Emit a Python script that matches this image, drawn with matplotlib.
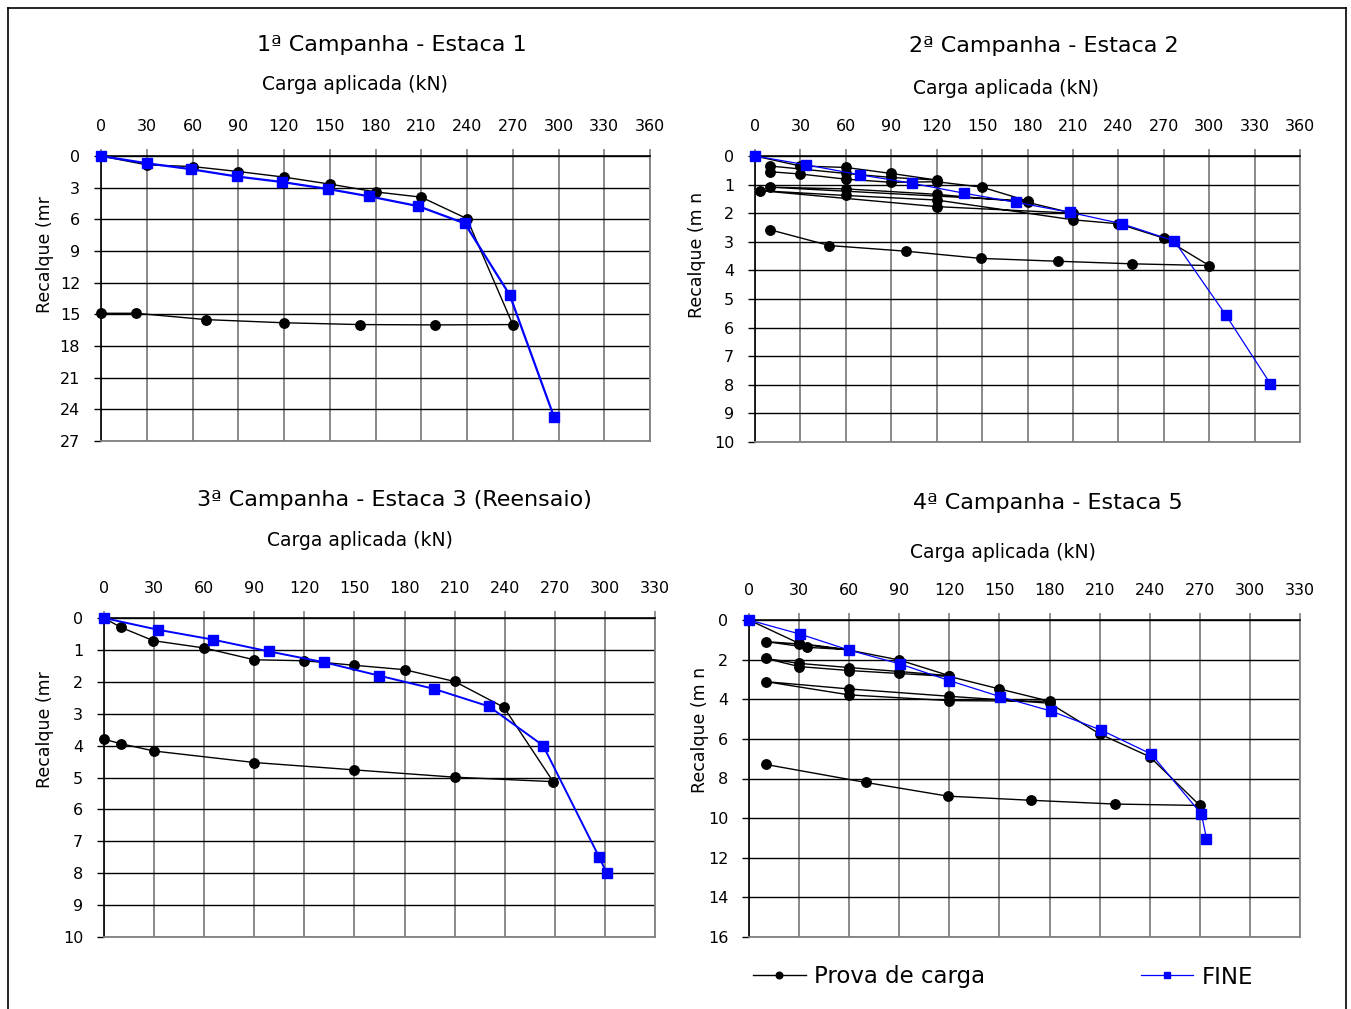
import matplotlib
matplotlib.use("Agg")
import matplotlib.pyplot as plt
from matplotlib.lines import Line2D

W, H = 1351, 1009

# ---- dados ----
# 1a campanha - estaca 1
e1_prova_x = [0, 30, 60, 90, 120, 150, 180, 210, 240, 270, 219, 170, 120, 69, 23, 0]
e1_prova_y = [0, 0.84, 1.0, 1.47, 2.0, 2.66, 3.4, 3.9, 5.94, 15.97, 16.0, 15.97, 15.8, 15.5, 14.9, 14.9]
e1_fine_x = [0, 30, 59, 89, 119, 149, 175.5, 208, 238.5, 268, 297]
e1_fine_y = [0, 0.69, 1.25, 1.94, 2.47, 3.13, 3.81, 4.75, 6.38, 13.16, 24.7]

# 2a campanha - estaca 2
e2_prova_x = [0, 30, 60, 90, 120, 90, 60, 10, 10, 30, 60, 90, 120, 150, 180, 10,
              60, 120, 180, 210, 120, 3, 60, 120, 210, 240, 270, 300,
              249, 200, 149, 100, 49, 10]
e2_prova_y = [0, 0.35, 0.40, 0.61, 0.84, 0.75, 0.61, 0.35, 0.55, 0.63, 0.81, 0.92, 0.90, 1.09, 1.57, 1.09,
              1.15, 1.34, 1.62, 2.0, 1.77, 1.21, 1.38, 1.54, 2.23, 2.37, 2.87, 3.83,
              3.77, 3.68, 3.58, 3.33, 3.13, 2.58]
e2_fine_x = [0, 34, 69.5, 103.5, 138, 172.5, 208, 242.5, 277, 311, 340.5]
e2_fine_y = [0, 0.31, 0.66, 0.95, 1.3, 1.62, 1.97, 2.37, 2.97, 5.56, 7.97]

# 3a campanha - estaca 3 (reensaio)
e3_prova_x = [0, 10, 29.5, 60, 90, 120, 149.5, 180, 210, 239.5, 269, 210, 149.5, 90, 30, 10, 0]
e3_prova_y = [0, 0.29, 0.71, 0.94, 1.31, 1.34, 1.48, 1.62, 1.99, 2.8, 5.13, 4.99, 4.76, 4.53, 4.17, 3.94, 3.8]
e3_fine_x = [0, 32.5, 65.5, 99, 132, 165, 197.5, 230.5, 263, 296.5, 301]
e3_fine_y = [0, 0.37, 0.68, 1.05, 1.39, 1.81, 2.22, 2.77, 4.0, 7.49, 7.99]

# 4a campanha - estaca 5
e4_prova_x = [0, 30, 60, 35, 10, 30, 60, 90, 120, 90, 60, 30, 10, 30, 60, 90, 120, 150, 180,
              120, 60, 10, 60, 120, 180, 210, 240, 270, 219, 169, 119, 70, 10]
e4_prova_y = [0, 1.18, 1.5, 1.38, 1.09, 1.21, 1.52, 2.02, 2.81, 2.6, 2.4, 2.19, 1.94, 2.35, 2.55, 2.7, 2.85, 3.48, 4.1,
              4.07, 3.78, 3.11, 3.48, 3.85, 4.2, 5.75, 6.9, 9.36, 9.29, 9.1, 8.89, 8.2, 7.29]
e4_fine_x = [0, 30.5, 60, 90.5, 120, 150.5, 181, 211, 241, 271, 274]
e4_fine_y = [0, 0.71, 1.52, 2.22, 3.06, 3.87, 4.6, 5.56, 6.77, 9.8, 11.03]

titulos = ["1ª Campanha - Estaca 1", "2ª Campanha - Estaca 2",
           "3ª Campanha - Estaca 3 (Reensaio)", "4ª Campanha - Estaca 5"]
ylabels = ["Recalque (mr", "Recalque (m n", "Recalque (mr", "Recalque (m n"]

plt.rcParams["font.family"] = ["DejaVu Sans"]

fig = plt.figure(figsize=(W / 100, H / 100), dpi=100)


def fx(px):
    return px / W


def fy(py):
    return 1 - py / H


def painel(box, xmax, ymax, ystep, px, py, fx_, fy_, blue_lw):
    l, t, r, b = box
    ax = fig.add_axes([fx(l), fy(b), fx(r) - fx(l), fy(t) - fy(b)])
    ax.plot(px, py, color="black", lw=1.0, marker="o", ms=6.8, clip_on=False,
            label="Prova de carga", zorder=3)
    ax.plot(fx_, fy_, color="#0000ff", lw=blue_lw, marker="s", ms=7, clip_on=False,
            label="FINE", zorder=4)
    ax.set_xlim(0, xmax)
    ax.set_ylim(ymax, 0)
    ax.set_xticks(range(0, xmax + 1, 30))
    yt = list(range(0, ymax + 1, ystep))
    ax.set_yticks(yt)
    ax.xaxis.tick_top()
    ax.set_axisbelow(True)
    ax.grid(axis="x", color="#808080", lw=1.3)
    ax.grid(axis="y", color="black", lw=1.0)
    for s in ["top", "left"]:
        ax.spines[s].set_color("black")
        ax.spines[s].set_linewidth(1.2)
    for s in ["right", "bottom"]:
        ax.spines[s].set_color("#808080")
        ax.spines[s].set_linewidth(1.3)
    ax.tick_params(axis="x", direction="out", length=5, width=1.2, color="#808080",
                   labelsize=11.5, pad=11)
    ax.tick_params(axis="y", direction="out", length=5, width=1.0, color="black",
                   labelsize=11.5, pad=10)
    return ax


a1 = painel((101, 156, 650, 441), 360, 27, 3, e1_prova_x, e1_prova_y, e1_fine_x, e1_fine_y, 1.6)
a2 = painel((755, 156, 1300, 442), 360, 10, 1, e2_prova_x, e2_prova_y, e2_fine_x, e2_fine_y, 0.9)
a3 = painel((104, 618, 655, 937), 330, 10, 1, e3_prova_x, e3_prova_y, e3_fine_x, e3_fine_y, 1.4)
a4 = painel((749, 620, 1300, 937), 330, 16, 2, e4_prova_x, e4_prova_y, e4_fine_x, e4_fine_y, 0.9)

# titulos e rotulos
pos_titulo = [(392, 45), (1044, 46), (394, 500), (1048, 503)]
pos_xlabel = [(355, 85), (1006, 88), (360, 540), (1003, 552)]
pos_ylabel = [(45, 255), (697, 255), (45, 730), (700, 730)]
for i in range(4):
    fig.text(fx(pos_titulo[i][0]), fy(pos_titulo[i][1]), titulos[i], ha="center", va="center",
             fontsize=16)
    fig.text(fx(pos_xlabel[i][0]), fy(pos_xlabel[i][1]), "Carga aplicada (kN)", ha="center",
             va="center", fontsize=13.5)
    fig.text(fx(pos_ylabel[i][0]), fy(pos_ylabel[i][1]), ylabels[i], ha="center", va="center",
             rotation=90, fontsize=12.5)

# legenda
h, lab = a4.get_legend_handles_labels()
fig.legend(h, lab, loc="center", bbox_to_anchor=(fx(1003), fy(977)), ncol=2, frameon=False,
           fontsize=16.5, handlelength=2.3, columnspacing=6.8, handletextpad=0.35, markerscale=0.7)

# moldura
for xs, ys in [((8, 1346), (8, 8)), ((8, 8), (8, 1009)), ((1346, 1346), (8, 1009))]:
    fig.add_artist(Line2D([fx(xs[0]), fx(xs[1])], [fy(ys[0]), fy(ys[1])], color="black", lw=1.2))

fig.savefig("out.png", dpi=100)
